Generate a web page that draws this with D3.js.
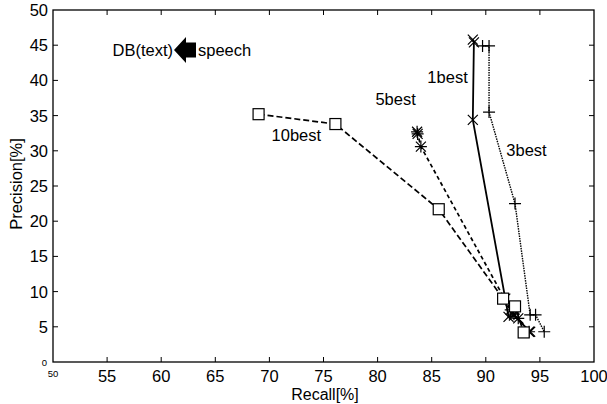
<!DOCTYPE html>
<html>
<head>
<meta charset="utf-8">
<script src="https://cdn.jsdelivr.net/npm/d3@7"></script>
<style>
  body { margin: 0; background: #fff; }
  svg { font-family: Arial, "Liberation Sans", sans-serif; }
</style>
</head>
<body>
<div id="chart"></div>
<script>
// values: [recall, precision]
const best1 = [[88.8, 45.8], [88.9, 45.4], [88.8, 34.4], [91.8, 9.0], [92.1, 6.4], [92.6, 6.6], [94.1, 4.3]];
const best3 = [[89.7, 44.9], [90.3, 44.9], [90.3, 35.5], [92.7, 22.5], [94.1, 6.7], [94.6, 6.7], [95.4, 4.3]];
const best5 = [[83.65, 32.7], [83.7, 32.4], [84.0, 30.6], [92.3, 7.4], [92.6, 6.8], [93.0, 6.2], [94.0, 4.3]];
const best10 = [[69.0, 35.2], [76.1, 33.8], [85.65, 21.7], [91.6, 9.0], [92.7, 7.9], [93.5, 4.2]];

const xTicks = [55, 60, 65, 70, 75, 80, 85, 90, 95, 100];
const yTicks = [5, 10, 15, 20, 25, 30, 35, 40, 45, 50];

const labels = [
  { text: '1best', x: 84.6, y: 39.6 },
  { text: '5best', x: 79.8, y: 36.5 },
  { text: '10best', x: 70.2, y: 31.4 },
  { text: '3best', x: 91.9, y: 29.3 },
];

const size = { width: 607, height: 404 };
const margin = { top: 10, right: 13, bottom: 42, left: 53 };
const fs = 16.5;

const svg = d3.select('#chart')
  .append('svg')
  .attr('width', size.width)
  .attr('height', size.height);

const x = d3.scaleLinear()
  .domain([50, 100])
  .range([margin.left, size.width - margin.right]);

const y = d3.scaleLinear()
  .domain([0, 50])
  .range([size.height - margin.bottom, margin.top]);

// ticks inward on all four sides
const tickLen = 5;
const axes = svg.append('g').attr('stroke', '#000').attr('stroke-width', 1);
xTicks.filter((t) => t < 100).forEach((t) => {
  axes.append('line').attr('x1', x(t)).attr('x2', x(t))
    .attr('y1', y(0)).attr('y2', y(0) - tickLen);
  axes.append('line').attr('x1', x(t)).attr('x2', x(t))
    .attr('y1', y(50)).attr('y2', y(50) + tickLen);
});
yTicks.filter((t) => t < 50).forEach((t) => {
  axes.append('line').attr('x1', x(50)).attr('x2', x(50) + tickLen)
    .attr('y1', y(t)).attr('y2', y(t));
  axes.append('line').attr('x1', x(100)).attr('x2', x(100) - tickLen)
    .attr('y1', y(t)).attr('y2', y(t));
});
svg.append('rect')
  .attr('x', x(50)).attr('y', y(50))
  .attr('width', x(100) - x(50)).attr('height', y(0) - y(50))
  .attr('fill', 'none').attr('stroke', '#000').attr('stroke-width', 1.3);

svg.append('g').selectAll('text').data(xTicks).join('text')
  .attr('x', (d) => x(d)).attr('y', y(0) + 19.5)
  .attr('text-anchor', 'middle').attr('font-size', fs).text((d) => d);
svg.append('g').selectAll('text').data(yTicks).join('text')
  .attr('x', x(50) - 5).attr('y', (d) => y(d) + 6)
  .attr('text-anchor', 'end').attr('font-size', fs).text((d) => d);
svg.append('text').attr('x', x(50)).attr('y', y(0) + 15)
  .attr('font-size', 9.5).attr('text-anchor', 'middle').text('50');
svg.append('text').attr('x', x(50) - 6).attr('y', y(0) + 4)
  .attr('font-size', 9.5).attr('text-anchor', 'end').text('0');

svg.append('text').attr('x', 325).attr('y', 399.5)
  .attr('text-anchor', 'middle').attr('font-size', 16).text('Recall[%]');
svg.append('text')
  .attr('transform', 'translate(22, 184) rotate(-90)')
  .attr('text-anchor', 'middle').attr('font-size', fs).text('Precision[%]');

const line = d3.line().x((d) => x(d[0])).y((d) => y(d[1]));
const series = [
  { data: best1, dash: null, width: 1.8, marker: 'x' },
  { data: best3, dash: '1.5,1', width: 1.4, marker: '+' },
  { data: best5, dash: '4,3', width: 1.7, marker: '*' },
  { data: best10, dash: '6,3', width: 1.7, marker: 's' },
];

series.forEach((s) => {
  svg.append('path')
    .attr('d', line(s.data))
    .attr('fill', 'none').attr('stroke', '#000')
    .attr('stroke-width', s.width)
    .attr('stroke-dasharray', s.dash);
});

const drawMarker = (g, type) => {
  const r = 5;
  if (type === 'x' || type === '*') {
    g.append('path').attr('d', `M${-r},${-r}L${r},${r}M${-r},${r}L${r},${-r}`);
  }
  if (type === '+' || type === '*') {
    g.append('path').attr('d', `M${-r - 1},0L${r + 1},0M0,${-r - 1}L0,${r + 1}`);
  }
  if (type === 's') {
    g.append('rect').attr('x', -5.5).attr('y', -5.5).attr('width', 11).attr('height', 11)
      .attr('fill', '#fff');
  }
};

series.forEach((s) => {
  s.data.forEach((d) => {
    const g = svg.append('g')
      .attr('transform', `translate(${x(d[0])},${y(d[1])})`)
      .attr('fill', 'none').attr('stroke', '#000').attr('stroke-width', 1.2);
    drawMarker(g, s.marker);
  });
});

svg.append('g').selectAll('text').data(labels).join('text')
  .attr('x', (d) => x(d.x)).attr('y', (d) => y(d.y))
  .attr('font-size', fs).text((d) => d.text);

// DB(text) <- speech annotation
const ay = 50;
svg.append('text').attr('x', 173).attr('y', ay + 6)
  .attr('text-anchor', 'end').attr('font-size', fs).text('DB(text)');
svg.append('path')
  .attr('d', `M174,${ay}L186,${ay - 13}L186,${ay - 7.5}L196,${ay - 7.5}L196,${ay + 7.5}L186,${ay + 7.5}L186,${ay + 13}Z`)
  .attr('fill', '#000');
svg.append('text').attr('x', 198).attr('y', ay + 6)
  .attr('font-size', fs).text('speech');
</script>
</body>
</html>
